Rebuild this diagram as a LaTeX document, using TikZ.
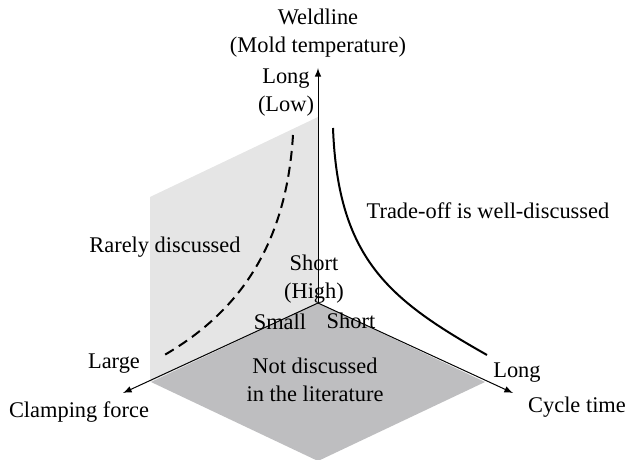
\documentclass[tikz,border=0pt]{standalone}
\usepackage{fontspec}
\setmainfont{Liberation Serif}
\usepackage{tikz}
\definecolor{planelight}{RGB}{229,229,229}
\definecolor{planedark}{RGB}{190,190,192}
\tikzset{
	lbl/.style={inner sep=0pt,align=center,font=\fontsize{11.2}{14}\selectfont},
	axis/.style={-latex,line width=0.5pt},
	front/.style={line width=1pt},
	dfront/.style={line width=1pt,dash pattern=on 5pt off 3pt}
}

\begin{document}
\begin{tikzpicture}[x=0.5pt,y=-0.5pt]
						\useasboundingbox (0,0) rectangle (628,460);
						\coordinate (O) at (318,303);
						\coordinate (wl) at (318,68);
						\coordinate (cf) at (123,393);
						\coordinate (ct) at (513,393);

						\fill [planelight] (O) -- (318,117) -- (150,197) -- (150,382) -- cycle;
						\fill [planedark] (O) -- (151,382) -- (318,461) -- (485,382) -- cycle;

						\draw [axis] (O) -- (wl);
						\draw [axis] (O) -- (cf);
						\draw [axis] (O) -- (ct);

						\draw [dfront] (293,135) .. controls (286,250) and (235,315) .. (161,357);
						\draw [front] (333,128) .. controls (338,260) and (390,300) .. (487,355);

						\node [lbl] (weld) at (318,33) {Weldline\\(Mold temperature)};
						\node [lbl] (long) at (286,93) {Long\\(Low)};
						\node [lbl] (short) at (314,279) {Short\\(High)};
						\node [lbl] (trade) at (488,211) {Trade-off is well-discussed};
						\node [lbl] (rare) at (165,247) {Rarely discussed};
						\node [lbl] (small) at (280,322) {Small};
						\node [lbl] (shortc) at (351,321) {Short};
						\node [lbl] (large) at (114,364) {Large};
						\node [lbl] (longc) at (517,373) {Long};
						\node [lbl] (notd) at (315,380) {Not discussed\\in the literature};
						\node [lbl] (clamp) at (79,412) {Clamping force};
						\node [lbl] (cycle) at (577,407) {Cycle time};
					\end{tikzpicture}
\end{document}
